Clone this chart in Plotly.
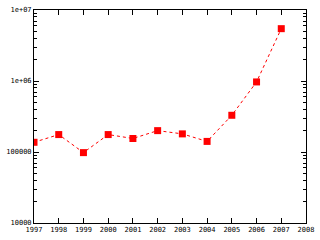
import plotly.graph_objects as go

years = [1997, 1998, 1999, 2000, 2001, 2002, 2003, 2004, 2005, 2006, 2007]
values = [137000, 176000, 98000, 176000, 155000, 200000, 180000, 141000, 329000, 970000, 5460000]
x_ticks = list(range(1997, 2009))
y_tickvals = [1e4, 1e5, 1e6, 1e7]
y_ticktext = ["10000", "100000", "1e+06", "1e+07"]

fig = go.Figure()
fig.add_trace(go.Scatter(
    x=years, y=values, mode="lines+markers",
    line=dict(color="#ff0000", width=1, dash="dot"),
    marker=dict(symbol="square", size=7, color="#ff0000"),
    showlegend=False,
))

axis_common = dict(
    showline=True, linecolor="black", linewidth=1, mirror="allticks",
    ticks="inside", ticklen=5, tickcolor="black", showgrid=False, zeroline=False,
    tickfont=dict(family="DejaVu Sans Mono", size=7, color="black"),
)
fig.update_xaxes(range=[1997, 2008], tickvals=x_ticks, ticktext=[str(v) for v in x_ticks], **axis_common)
fig.update_yaxes(type="log", range=[4, 7], tickvals=y_tickvals, ticktext=y_ticktext,
                 minor=dict(ticks="inside", ticklen=3, tickcolor="black", dtick="D1", showgrid=False),
                 **axis_common)
fig.update_layout(
    width=320, height=240,
    margin=dict(l=34, r=11, t=6, b=14),
    paper_bgcolor="white", plot_bgcolor="white",
)
fig.write_html("out.html")
